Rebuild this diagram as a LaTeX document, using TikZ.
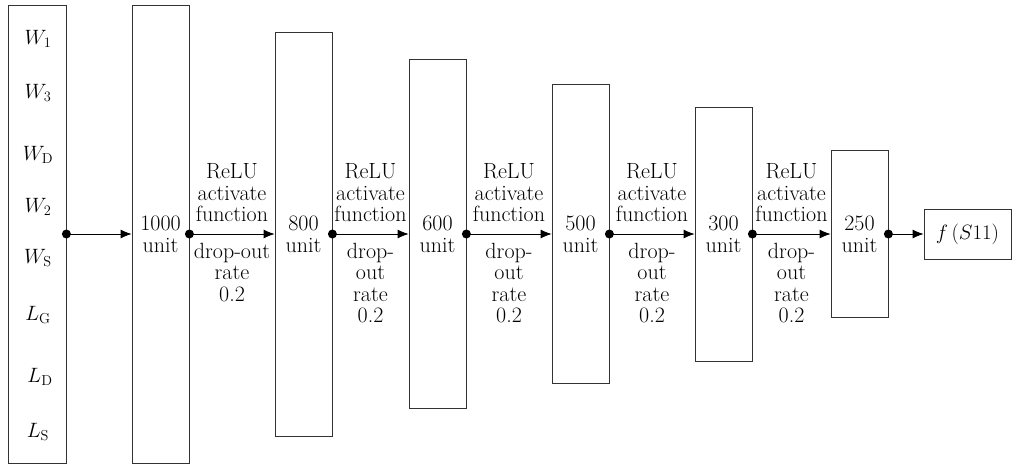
\documentclass[tikz,border=0pt]{standalone}
\usetikzlibrary{arrows.meta}
\tikzset{
  layer/.style={draw=black!80, line width=0.8pt, minimum width=57pt, inner sep=0pt, align=center, font=\fontsize{22}{22}\selectfont},
  lbl/.style={inner sep=0pt, align=center, font=\fontsize{22}{21.5}\selectfont},
  inp/.style={inner sep=0pt, font=\fontsize{20}{21.5}\selectfont},
  conn/.style={line width=0.8pt, -{Latex[length=11pt,width=9pt]}},
  dot/.style={circle, fill=black, inner sep=0pt, minimum size=9pt}
}
\begin{document}
\begin{tikzpicture}[x=1pt,y=-1pt]
\useasboundingbox (0,0) rectangle (1013,467);
% layers
\node[layer, minimum width=58pt, minimum height=458pt] (b0) at (37,234) {};
\node[layer, minimum height=458pt] (b1) at (160.5,234) {1000\\unit};
\node[layer, minimum height=404pt] (b2) at (303.5,234) {800\\unit};
\node[layer, minimum height=349pt] (b3) at (437.5,234) {600\\unit};
\node[layer, minimum height=299pt] (b4) at (580.5,234) {500\\unit};
\node[layer, minimum height=254pt] (b5) at (723.5,234) {300\\unit};
\node[layer, minimum height=167pt] (b6) at (859.5,234) {250\\unit};
\node[layer, minimum width=87pt, minimum height=50pt] (out) at (967.5,234) {$f\,(S11)$};
% inputs
\node[inp] (i1) at (38,39) {$W_{\mathrm{1}}$};
\node[inp] (i2) at (38,93) {$W_{\mathrm{3}}$};
\node[inp] (i3) at (38,155) {$W_{\mathrm{D}}$};
\node[inp] (i4) at (38,207) {$W_{\mathrm{2}}$};
\node[inp] (i5) at (38,258) {$W_{\mathrm{S}}$};
\node[inp] (i6) at (38,315) {$L_{\mathrm{G}}$};
\node[inp] (i7) at (40,377) {$L_{\mathrm{D}}$};
\node[inp] (i8) at (38,432) {$L_{\mathrm{S}}$};
% connectors
\foreach \a/\b in {b0/b1,b1/b2,b2/b3,b3/b4,b4/b5,b5/b6,b6/out}{
  \node[dot] (d\a) at (\a.east) {};
  \draw[conn] (\a.east) -- (\b.west);
}
% labels
\node[lbl, anchor=south] (r1) at (232,222) {ReLU\\activate\\function};
\node[lbl, anchor=north] (p1) at (232,243) {drop-out\\rate\\0.2};
\node[lbl, anchor=south] (r2) at (370.5,222) {ReLU\\activate\\function};
\node[lbl, anchor=north] (p2) at (370.5,243) {drop-\\out\\rate\\0.2};
\node[lbl, anchor=south] (r3) at (509,222) {ReLU\\activate\\function};
\node[lbl, anchor=north] (p3) at (509,243) {drop-\\out\\rate\\0.2};
\node[lbl, anchor=south] (r4) at (652,222) {ReLU\\activate\\function};
\node[lbl, anchor=north] (p4) at (652,243) {drop-\\out\\rate\\0.2};
\node[lbl, anchor=south] (r5) at (791.5,222) {ReLU\\activate\\function};
\node[lbl, anchor=north] (p5) at (791.5,243) {drop-\\out\\rate\\0.2};
\end{tikzpicture}
\end{document}
